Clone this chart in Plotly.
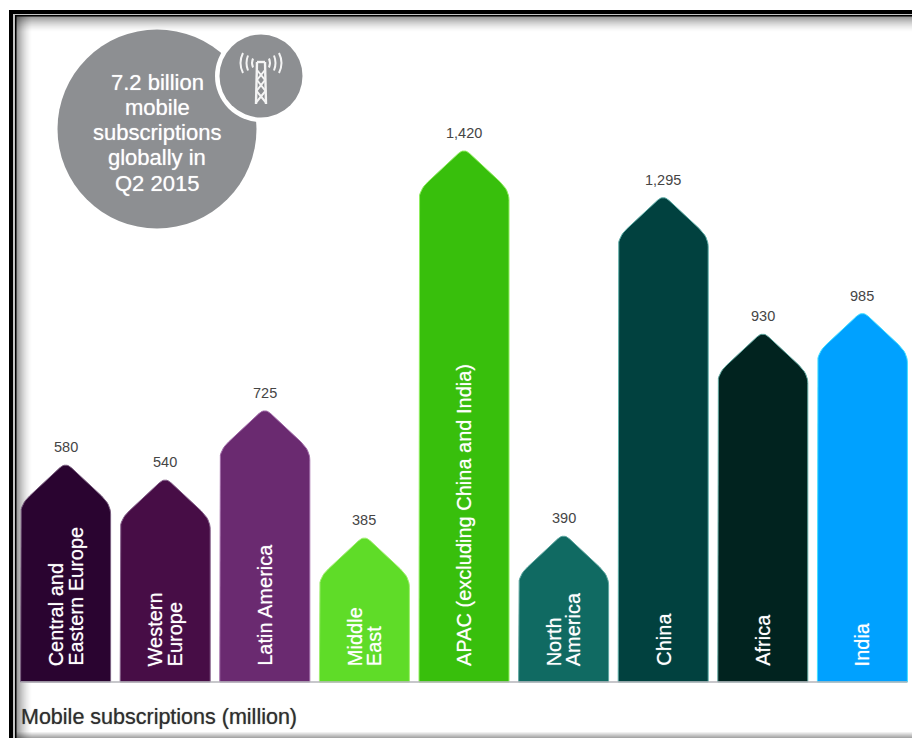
import plotly.graph_objects as go

WIDTH, HEIGHT = 912, 738

# Mobile subscriptions by region, Q2 2015 (million)
regions = ["Central and Eastern Europe", "Western Europe", "Latin America", "Middle East",
           "APAC (excluding China and India)", "North America", "China", "Africa", "India"]
region_lines = [["Central and", "Eastern Europe"], ["Western", "Europe"], ["Latin America"],
                ["Middle", "East"], ["APAC (excluding China and India)"], ["North", "America"],
                ["China"], ["Africa"], ["India"]]
subscriptions = [580, 540, 725, 385, 1420, 390, 1295, 930, 985]
value_labels = ["580", "540", "725", "385", "1,420", "390", "1,295", "930", "985"]
fill_colors = ["#2a0430", "#470d46", "#6a2a70", "#5fdc28", "#38bf0c", "#106a62", "#01413f", "#01231f", "#00a1ff"]
edge_colors = ["#7a5f80", "#85608a", "#a06aa8", "#a0ee70", "#90ee60", "#5fa8a2", "#60b0aa", "#60a8a0", "#40e0ff"]
callout_lines = ["7.2 billion", "mobile", "subscriptions", "globally in", "Q2 2015"]
axis_title = "Mobile subscriptions (million)"

# Horizontal and vertical scale of the plot
FIRST_CENTER_PX, STEP_PX = 65.6, 99.6
BASELINE_PX, PX_PER_UNIT = 682.0, 0.374
HALF_WIDTH = 45.0 / STEP_PX
SHOULDER = 42.0 / PX_PER_UNIT
TIP_CUT = 0.13
SHOULDER_CUT = 0.2


def px(x):
    return x / WIDTH


def py(y):
    return 1 - y / HEIGHT


def quad(p0, c, p2, steps=8):
    pts = []
    for s in range(steps + 1):
        t = s / steps
        pts.append(((1 - t) ** 2 * p0[0] + 2 * t * (1 - t) * c[0] + t ** 2 * p2[0],
                    (1 - t) ** 2 * p0[1] + 2 * t * (1 - t) * c[1] + t ** 2 * p2[1]))
    return pts


def arrow_bar(center, value):
    # The rounded apex lands on the value; the unrounded tip sits slightly above it
    tip_y = value + TIP_CUT * SHOULDER / 2
    sh_y = tip_y - SHOULDER
    left, right = center - HALF_WIDTH, center + HALF_WIDTH
    # Rounding distances are the same for every bar, whatever its height
    s_dy = SHOULDER * SHOULDER_CUT * 1.2
    s_dx = HALF_WIDTH * SHOULDER_CUT
    t_dx = HALF_WIDTH * TIP_CUT
    t_dy = SHOULDER * TIP_CUT
    pts = [(left, 0)]
    pts += quad((left, sh_y - s_dy), (left, sh_y), (left + s_dx, sh_y + SHOULDER * SHOULDER_CUT))
    pts += quad((center - t_dx, tip_y - t_dy), (center, tip_y), (center + t_dx, tip_y - t_dy))
    pts += quad((right - s_dx, sh_y + SHOULDER * SHOULDER_CUT), (right, sh_y), (right, sh_y - s_dy))
    pts += [(right, 0), (left, 0)]
    return [p[0] for p in pts], [p[1] for p in pts]


fig = go.Figure()

for i, region in enumerate(regions):
    xs, ys = arrow_bar(i, subscriptions[i])
    fig.add_trace(go.Scatter(x=xs, y=ys, mode="lines", fill="toself", name=region,
                             fillcolor=fill_colors[i],
                             line=dict(color=edge_colors[i], width=1), hoverinfo="name"))

# Baseline
fig.add_trace(go.Scatter(x=[-HALF_WIDTH, len(regions) - 1 + HALF_WIDTH], y=[0, 0], mode="lines",
                         line=dict(color="#b4b4ba", width=1.5), hoverinfo="skip"))

shapes = []


def rect(x0, y0, x1, y1, color, opacity=1.0):
    shapes.append(dict(type="rect", xref="paper", yref="paper", x0=px(x0), x1=px(x1),
                       y0=py(y0), y1=py(y1), fillcolor=color, opacity=opacity,
                       line=dict(width=0), layer="below"))


def circle(cx, cy, r, color):
    shapes.append(dict(type="circle", xref="paper", yref="paper", x0=px(cx - r), x1=px(cx + r),
                       y0=py(cy + r), y1=py(cy - r), fillcolor=color, line=dict(width=0),
                       layer="below"))


def stroke(points, curved=False, width=2.0):
    cmd = "M {} {} ".format(px(points[0][0]), py(points[0][1]))
    if curved:
        cmd += "Q {} {} {} {}".format(px(points[1][0]), py(points[1][1]), px(points[2][0]), py(points[2][1]))
    else:
        cmd += " ".join("L {} {}".format(px(a), py(b)) for a, b in points[1:])
    shapes.append(dict(type="path", path=cmd, xref="paper", yref="paper",
                       line=dict(color="#f4f4f4", width=width), layer="above"))


# Inner shadow of the frame
for k in range(16):
    shade = 0.42 * (1 - k / 16) ** 1.6
    rect(16 + k, 16, 17 + k, HEIGHT, "#000000", shade)
    rect(16, 16 + k, WIDTH, 17 + k, "#000000", shade)
for k in range(6):
    rect(16, HEIGHT - 1 - k, WIDTH, HEIGHT - k, "#000000", 0.35 * (1 - k / 6))

# Double frame line, open on the right
rect(9, 10, WIDTH, 14, "#000000")
rect(9, 10, 13, HEIGHT, "#000000")
rect(13, 14, WIDTH, 15, "#c4c4c4")
rect(13, 14, 15, HEIGHT, "#c4c4c4")
rect(15, 15, WIDTH, 16.5, "#000000")
rect(15, 15, 16.5, HEIGHT, "#000000")

# Callout discs
GREY = "#8d8f92"
circle(157, 129, 99.5, GREY)
circle(261, 76, 46, "#ffffff")
circle(261, 76, 41.5, GREY)

# Antenna icon
stroke([(257, 62), (256, 104)], width=2.4)
stroke([(265, 62), (266, 104)], width=2.4)
stroke([(257, 62), (265, 62)], width=2.4)
stroke([(257, 70), (265, 80), (256.5, 91), (265.5, 102)], width=2)
stroke([(265, 70), (257, 80), (265.5, 91), (256.5, 102)], width=2)
for dx, bow, half in [(8, 10, 4.5), (13, 16, 7.5), (18, 23, 10)]:
    stroke([(261 - dx, 63 - half), (261 - bow, 63), (261 - dx, 63 + half)], curved=True, width=2)
    stroke([(261 + dx, 63 - half), (261 + bow, 63), (261 + dx, 63 + half)], curved=True, width=2)

annotations = []

# Value labels above the arrow tips
for i, label in enumerate(value_labels):
    annotations.append(dict(x=i, y=subscriptions[i], xref="x", yref="y", text=label, showarrow=False,
                            xanchor="center", yanchor="bottom", yshift=8,
                            font=dict(family="Liberation Sans", size=14.5, color="#454545")))

# Region names, rotated and reading upward from just above the baseline
LINE_GAP = 19.5
for i, lines in enumerate(region_lines):
    first = -(len(lines) - 1) * LINE_GAP / 2
    for j, line in enumerate(lines):
        annotations.append(dict(x=i, y=0, xref="x", yref="y", text=line, showarrow=False,
                                textangle=-90, xanchor="center", yanchor="bottom",
                                xshift=first + j * LINE_GAP, yshift=14,
                                font=dict(family="Liberation Sans", size=20, color="white",
                                          shadow="0 0 1px rgba(255,255,255,0.7)")))

# Callout text
for k, line in enumerate(callout_lines):
    annotations.append(dict(x=px(157), y=py(82 + k * 25.3), xref="paper", yref="paper", text=line,
                            showarrow=False, xanchor="center", yanchor="middle",
                            font=dict(family="Liberation Sans", size=22, color="white",
                                      shadow="0 0 1px rgba(255,255,255,0.7)")))

# Measure caption under the baseline
annotations.append(dict(x=px(19), y=py(717), xref="paper", yref="paper", text=axis_title,
                        showarrow=False, xanchor="left", yanchor="middle",
                        font=dict(family="Liberation Sans", size=21.5, color="#2e2e2e",
                                  shadow="0 0 1px rgba(30,30,30,0.6)")))

fig.update_layout(
    width=WIDTH, height=HEIGHT, margin=dict(l=0, r=0, t=0, b=0), showlegend=False,
    paper_bgcolor="white", plot_bgcolor="rgba(0,0,0,0)", shapes=shapes, annotations=annotations,
    xaxis=dict(visible=False, fixedrange=True,
               range=[-FIRST_CENTER_PX / STEP_PX, (WIDTH - FIRST_CENTER_PX) / STEP_PX]),
    yaxis=dict(visible=False, fixedrange=True,
               range=[-(HEIGHT - BASELINE_PX) / PX_PER_UNIT, BASELINE_PX / PX_PER_UNIT]),
)

fig.write_html("out.html", config=dict(displayModeBar=False))
